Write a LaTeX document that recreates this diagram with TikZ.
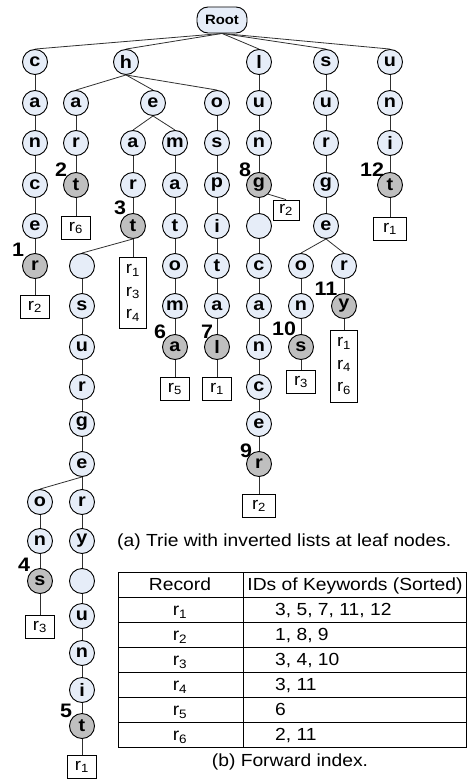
\documentclass[tikz,border=0pt]{standalone}
\usepackage{fontspec}
\setmainfont{Liberation Sans}[FakeStretch=1.1]
\usetikzlibrary{calc}
\definecolor{nfill}{HTML}{E6EDF8}
\definecolor{gfill}{HTML}{BFBFBF}
\definecolor{edgec}{HTML}{303030}
\begin{document}
\begin{tikzpicture}[x=1pt,y=-1pt,
  trienode/.style={circle,draw=black,line width=0.9pt,fill=nfill,minimum size=25pt,inner sep=0pt,font=\fontsize{18}{18}\selectfont\bfseries},
  leafnode/.style={trienode,fill=gfill},
  rootnode/.style={draw=black,line width=0.9pt,fill=nfill,rounded corners=11pt,minimum width=50pt,minimum height=26pt,inner sep=0pt,font=\fontsize{13.5}{13.5}\selectfont\bfseries},
  listbox/.style={draw=black,line width=0.8pt,fill=white,minimum width=29pt,minimum height=23pt,inner sep=0pt,font=\fontsize{17}{22.5}\selectfont,align=center},
  tallbox/.style={listbox,minimum width=27pt,minimum height=71pt},
  numlbl/.style={inner sep=0pt,font=\fontsize{19.5}{19.5}\selectfont\bfseries},
  edge/.style={draw=edgec,line width=0.8pt},
  tline/.style={draw=black,line width=1pt},
  ttext/.style={inner sep=0pt,font=\fontsize{17.5}{20}\selectfont},
]
\useasboundingbox (0,0) rectangle (468,781);

% root
\node[rootnode] (root) at (222,20) {Root};

% column c
\node[trienode] (c1) at (35,62) {c};
\node[trienode] (c2) at (35,103) {a};
\node[trienode] (c3) at (35,143) {n};
\node[trienode] (c4) at (35,185) {c};
\node[trienode] (c5) at (35,226) {e};
\node[leafnode] (c6) at (35,266) {r};
\node[listbox] (bc) at (35,307) {r\textsubscript{2}};

% h subtree
\node[trienode] (h1) at (126,62) {h};
\node[trienode] (ha) at (76,103) {a};
\node[trienode] (har) at (76,143) {r};
\node[leafnode] (hart) at (76,185) {t};
\node[listbox] (bhart) at (76,228) {r\textsubscript{6}};

\node[trienode] (he) at (153,103) {e};
\node[trienode] (hea) at (133,143) {a};
\node[trienode] (hear) at (133,185) {r};
\node[leafnode] (heart) at (133,226) {t};
\node[tallbox] (bheart) at (133,293) {r\textsubscript{1}\\r\textsubscript{3}\\r\textsubscript{4}};

\node[trienode] (hem) at (175,143) {m};
\node[trienode] (hema) at (175,185) {a};
\node[trienode] (hemat) at (175,226) {t};
\node[trienode] (hemato) at (175,266) {o};
\node[trienode] (hematom) at (175,306) {m};
\node[leafnode] (hematoma) at (175,347) {a};
\node[listbox] (bhematoma) at (175,389) {r\textsubscript{5}};

\node[trienode] (ho) at (217,103) {o};
\node[trienode] (hos) at (217,143) {s};
\node[trienode] (hosp) at (217,185) {p};
\node[trienode] (hospi) at (217,226) {i};
\node[trienode] (hospit) at (217,266) {t};
\node[trienode] (hospita) at (217,306) {a};
\node[leafnode] (hospital) at (217,347) {l};
\node[listbox] (bhospital) at (217,389) {r\textsubscript{1}};

% heart + space + surgery ...
\node[trienode] (sp1) at (82,266) {};
\node[trienode] (sp1s) at (82,306) {s};
\node[trienode] (sp1u) at (82,347) {u};
\node[trienode] (sp1r) at (82,387) {r};
\node[trienode] (sp1g) at (82,424) {g};
\node[trienode] (sp1e) at (82,464) {e};
\node[trienode] (sp1o) at (40,502) {o};
\node[trienode] (sp1n) at (40,541) {n};
\node[leafnode] (sp1ns) at (40,581) {s};
\node[listbox] (bsp1ns) at (40,627) {r\textsubscript{3}};
\node[trienode] (sp1rr) at (82,502) {r};
\node[trienode] (sp1y) at (82,541) {y};
\node[trienode] (sp2) at (82,581) {};
\node[trienode] (sp2u) at (82,616) {u};
\node[trienode] (sp2n) at (82,653) {n};
\node[trienode] (sp2i) at (82,690) {i};
\node[leafnode] (sp2t) at (82,726) {t};
\node[listbox] (bsp2t) at (82,767) {r\textsubscript{1}};

% l column
\node[trienode] (l1) at (259,62) {l};
\node[trienode] (l2) at (259,103) {u};
\node[trienode] (l3) at (259,143) {n};
\node[leafnode] (l4) at (259,185) {g};
\node[listbox,minimum width=26pt,minimum height=20pt] (bl4) at (286,210) {r\textsubscript{2}};
\node[trienode] (l5) at (259,226) {};
\node[trienode] (l6) at (259,266) {c};
\node[trienode] (l7) at (259,306) {a};
\node[trienode] (l8) at (259,347) {n};
\node[trienode] (l9) at (259,387) {c};
\node[trienode] (l10) at (259,424) {e};
\node[leafnode] (l11) at (259,464) {r};
\node[listbox,minimum width=33pt] (bl11) at (259,506) {r\textsubscript{2}};

% s column
\node[trienode] (s1) at (326,62) {s};
\node[trienode] (s2) at (326,103) {u};
\node[trienode] (s3) at (326,143) {r};
\node[trienode] (s4) at (326,185) {g};
\node[trienode] (s5) at (326,226) {e};
\node[trienode] (s6o) at (301,266) {o};
\node[trienode] (s7n) at (301,306) {n};
\node[leafnode] (s8s) at (301,347) {s};
\node[listbox] (bs8s) at (301,382) {r\textsubscript{3}};
\node[trienode] (s6r) at (344,266) {r};
\node[leafnode] (s7y) at (344,306) {y};
\node[tallbox,minimum height=72pt] (bs7y) at (344,366) {r\textsubscript{1}\\r\textsubscript{4}\\r\textsubscript{6}};

% u column
\node[trienode] (u1) at (390,62) {u};
\node[trienode] (u2) at (390,103) {n};
\node[trienode] (u3) at (390,143) {i};
\node[leafnode] (u4) at (390,185) {t};
\node[listbox,minimum width=33pt] (bu4) at (390,229) {r\textsubscript{1}};

% edges
\foreach \a/\b in {root/c1,root/h1,root/l1,root/s1,root/u1,
  c1/c2,c2/c3,c3/c4,c4/c5,c5/c6,c6/bc,
  h1/ha,ha/har,har/hart,hart/bhart,
  h1/he,he/hea,hea/hear,hear/heart,heart/bheart,heart/sp1,
  he/hem,hem/hema,hema/hemat,hemat/hemato,hemato/hematom,hematom/hematoma,hematoma/bhematoma,
  h1/ho,ho/hos,hos/hosp,hosp/hospi,hospi/hospit,hospit/hospita,hospita/hospital,hospital/bhospital,
  sp1/sp1s,sp1s/sp1u,sp1u/sp1r,sp1r/sp1g,sp1g/sp1e,sp1e/sp1o,sp1o/sp1n,sp1n/sp1ns,sp1ns/bsp1ns,
  sp1e/sp1rr,sp1rr/sp1y,sp1y/sp2,sp2/sp2u,sp2u/sp2n,sp2n/sp2i,sp2i/sp2t,sp2t/bsp2t,
  l1/l2,l2/l3,l3/l4,l4/l5,l5/l6,l6/l7,l7/l8,l8/l9,l9/l10,l10/l11,l11/bl11,
  s1/s2,s2/s3,s3/s4,s4/s5,s5/s6o,s6o/s7n,s7n/s8s,s8s/bs8s,s5/s6r,s6r/s7y,s7y/bs7y,
  u1/u2,u2/u3,u3/u4,u4/bu4}
  \draw[edge] (\a.south) -- (\b.north);
\draw[edge] (l4.south east) -- (bl4.north);

% keyword ids
\node[numlbl] (k1) at (18,250) {1};
\node[numlbl] (k2) at (61,170) {2};
\node[numlbl] (k3) at (120,208) {3};
\node[numlbl] (k4) at (24,565) {4};
\node[numlbl] (k5) at (66,711) {5};
\node[numlbl] (k6) at (160,332) {6};
\node[numlbl] (k7) at (207,332) {7};
\node[numlbl] (k8) at (245,170) {8};
\node[numlbl] (k9) at (246,451) {9};
\node[numlbl] (k10) at (284,329) {10};
\node[numlbl] (k11) at (326,289) {11};
\node[numlbl] (k12) at (372,170) {12};

% caption (a)
\node[ttext,anchor=base west] (capa) at (117,546) {(a) Trie with inverted lists at leaf nodes.};

% table
\draw[tline] (118,572) rectangle (466,747);
\foreach \yy in {597,622,647,672,697,722} \draw[tline] (118,\yy) -- (466,\yy);
\draw[tline] (243,572) -- (243,747);
\node[ttext,anchor=base] (threc) at (180,590.5) {Record};
\node[ttext,anchor=base] (thids) at (355,590.5) {IDs of Keywords (Sorted)};
\node[ttext,anchor=base] (rr1) at (180,615.5) {r\textsubscript{1}};
\node[ttext,anchor=base] (rr2) at (180,640.5) {r\textsubscript{2}};
\node[ttext,anchor=base] (rr3) at (180,665.5) {r\textsubscript{3}};
\node[ttext,anchor=base] (rr4) at (180,690.5) {r\textsubscript{4}};
\node[ttext,anchor=base] (rr5) at (180,715.5) {r\textsubscript{5}};
\node[ttext,anchor=base] (rr6) at (180,740.5) {r\textsubscript{6}};
\node[ttext,anchor=base west] (vv1) at (275,615.5) {3, 5, 7, 11, 12};
\node[ttext,anchor=base west] (vv2) at (275,640.5) {1, 8, 9};
\node[ttext,anchor=base west] (vv3) at (275,665.5) {3, 4, 10};
\node[ttext,anchor=base west] (vv4) at (275,690.5) {3, 11};
\node[ttext,anchor=base west] (vv5) at (275,715.5) {6};
\node[ttext,anchor=base west] (vv6) at (275,740.5) {2, 11};

% caption (b)
\node[ttext,anchor=base] (capb) at (290,766) {(b) Forward index.};
\end{tikzpicture}
\end{document}
